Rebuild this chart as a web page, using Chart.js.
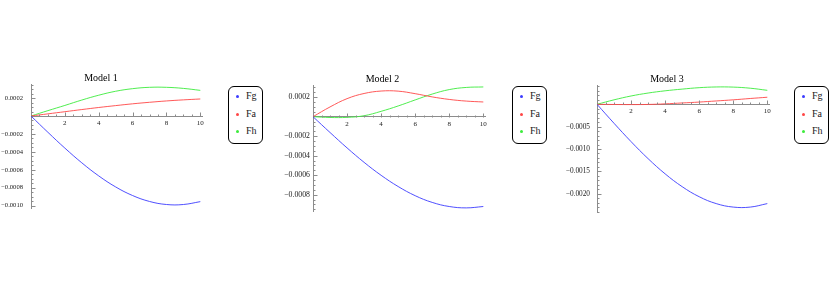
<!DOCTYPE html>
<html>
<head>
<meta charset="utf-8">
<script src="https://cdn.jsdelivr.net/npm/chart.js@4/dist/chart.umd.min.js"></script>
<style>
  body { margin: 0; background: #fff; }
  #wrap { position: relative; width: 830px; height: 284px; overflow: hidden; font-family: 'Liberation Serif', serif; }
  #wrap canvas { position: absolute; }
  .legend { position: absolute; box-sizing: border-box; border: 1.5px solid #000; border-radius: 6px; background: #fff; }
  .legend .dot { position: absolute; width: 3px; height: 3px; border-radius: 50%; }
  .legend .name { position: absolute; font-size: 10px; line-height: 12px; color: #222; }
</style>
</head>
<body>
<div id="wrap">
  <canvas id="model1" width="204" height="164" style="left:0;top:60px"></canvas>
  <canvas id="model2" width="211" height="164" style="left:280px;top:60px"></canvas>
  <canvas id="model3" width="208" height="164" style="left:565px;top:60px"></canvas>
</div>
<script>
const xValues = [0, 1, 2, 3, 4, 5, 6, 7, 8, 9, 10];
const seriesNames = ['Fg', 'Fa', 'Fh'];
const seriesColors = ['rgb(60,60,255)', 'rgb(255,70,70)', 'rgb(60,235,60)'];
const xTickValues = [2, 4, 6, 8, 10];

// Model 1
const fg1 = [0, -0.000182, -0.000358, -0.000522, -0.000668, -0.000791, -0.000887, -0.000953, -0.000987, -0.000987, -0.000955];
const fa1 = [0, 0.000024, 0.000048, 0.000072, 0.000095, 0.000116, 0.000136, 0.000153, 0.000168, 0.00018, 0.00019];
const fh1 = [0, 0.00006, 0.000118, 0.000178, 0.000232, 0.000276, 0.000305, 0.00032, 0.00032, 0.000308, 0.000286];
const yTicks1 = [0.0002, -0.0002, -0.0004, -0.0006, -0.0008, -0.001];

// Model 2
const fg2 = [0, -0.000162, -0.00032, -0.000468, -0.000601, -0.000716, -0.00081, -0.000879, -0.000921, -0.000935, -0.000921];
const fa2 = [0, 0.0001, 0.000185, 0.000238, 0.000263, 0.000262, 0.000236, 0.000203, 0.000177, 0.00016, 0.000151];
const fh2 = [0, -0.000008, -0.000007, 0.00001, 0.000055, 0.00011, 0.000172, 0.000232, 0.000278, 0.0003, 0.000305];
const yTicks2 = [0.0002, -0.0002, -0.0004, -0.0006, -0.0008];

// Model 3
const fg3 = [0, -0.000425, -0.000835, -0.001216, -0.001556, -0.001843, -0.002068, -0.002222, -0.0023, -0.0023, -0.002222];
const fa3 = [0, -0.000004, -0.000006, -0.000003, 0.00001, 0.00003, 0.00005, 0.000075, 0.0001, 0.00013, 0.000158];
const fh3 = [0, 0.0001, 0.000186, 0.000252, 0.000302, 0.00034, 0.000372, 0.000388, 0.000385, 0.00036, 0.000313];
const yTicks3 = [-0.0005, -0.001, -0.0015, -0.002];

const axisColor = '#8c8c8c';
const labelColor = '#222';

// Mathematica style ticks: pointing into the plot, with minor ticks
const axisTicks = {
  id: 'axisTicks',
  afterDraw(chart, args, opts) {
    const { ctx } = chart;
    const { x, y } = chart.scales;
    const x0 = Math.round(x.getPixelForValue(0)) + 0.5;
    const y0 = Math.round(y.getPixelForValue(0)) + 0.5;
    const isMajor = (v, step) => Math.abs(v / step - Math.round(v / step)) < 1e-6;
    ctx.save();
    ctx.strokeStyle = axisColor;
    ctx.lineWidth = 1;
    ctx.beginPath();
    for (let i = 1; i * opts.xMinor <= x.max + 1e-9; i++) {
      const v = i * opts.xMinor;
      const px = Math.round(x.getPixelForValue(v)) + 0.5;
      ctx.moveTo(px, y0);
      ctx.lineTo(px, y0 - (isMajor(v, opts.xMajor) ? 4 : 2));
    }
    const first = Math.ceil(y.min / opts.yMinor);
    const last = Math.floor(y.max / opts.yMinor);
    for (let i = first; i <= last; i++) {
      if (i === 0) continue;
      const v = i * opts.yMinor;
      const py = Math.round(y.getPixelForValue(v)) + 0.5;
      ctx.moveTo(x0, py);
      ctx.lineTo(x0 + (isMajor(v, opts.yMajor) ? 4 : 2), py);
    }
    ctx.stroke();
    ctx.restore();
  },
};

function formatY(v) {
  if (v === 0) return '';
  return (v < 0 ? '\u2212' : '') + Math.abs(v).toFixed(4);
}

function makePanel(id, title, fg, fa, fh, yMin, yMax, yTicks, opts) {
  const series = [fg, fa, fh];
  const ctx = document.getElementById(id).getContext('2d');
  return new Chart(ctx, {
    type: 'line',
    data: {
      datasets: series.map((values, i) => ({
        label: seriesNames[i],
        data: xValues.map((x, j) => ({ x, y: values[j] })),
        borderColor: seriesColors[i],
        borderWidth: 0.9,
        pointRadius: 0,
        tension: 0.4,
      })),
    },
    options: {
      responsive: false,
      animation: false,
      devicePixelRatio: 1,
      layout: {
        padding: { left: 0, top: 0, right: opts.padRight, bottom: opts.padBottom },
      },
      plugins: {
        legend: { display: false },
        tooltip: { enabled: false },
        title: {
          display: true,
          text: title,
          color: '#000',
          font: { family: "'Liberation Serif', serif", size: 10, weight: 'normal' },
          padding: { top: opts.titleTop, bottom: 0 },
        },
        axisTicks: { xMinor: 0.5, xMajor: 2, yMinor: opts.yMinor, yMajor: opts.yMajor },
      },
      scales: {
        x: {
          type: 'linear',
          position: { y: 0 },
          min: 0,
          max: 10.1,
          grid: { display: false, drawTicks: false },
          border: { display: true, color: axisColor, width: 1 },
          ticks: {
            color: labelColor,
            padding: 3,
            maxRotation: 0,
            font: { family: "'Liberation Serif', serif", size: 7 },
          },
          afterBuildTicks(scale) {
            scale.ticks = xTickValues.map((value) => ({ value }));
          },
          afterFit(scale) {
            scale.paddingLeft = 0;
            scale.paddingRight = 0;
          },
        },
        y: {
          type: 'linear',
          position: 'left',
          min: yMin,
          max: yMax,
          grid: { display: false, drawTicks: false },
          border: { display: true, color: axisColor, width: 1 },
          ticks: {
            color: labelColor,
            padding: opts.labelPad,
            font: { family: "'Liberation Serif', serif", size: opts.labelSize },
            callback: formatY,
          },
          afterBuildTicks(scale) {
            scale.ticks = yTicks.map((value) => ({ value }));
          },
          afterFit(scale) {
            scale.width = opts.axisWidth;
            scale.paddingTop = 0;
            scale.paddingBottom = 0;
          },
        },
      },
    },
    plugins: [axisTicks],
  });
}

function makeLegend(left, top) {
  const box = document.createElement('div');
  box.className = 'legend';
  Object.assign(box.style, { left: left + 'px', top: top + 'px', width: '35px', height: '58px' });
  seriesNames.forEach((name, i) => {
    const cy = 9.5 + i * 17.6;
    const dot = document.createElement('div');
    dot.className = 'dot';
    Object.assign(dot.style, { left: '7px', top: (cy - 1.5) + 'px', background: seriesColors[i] });
    const label = document.createElement('div');
    label.className = 'name';
    label.textContent = name;
    Object.assign(label.style, { left: '17px', top: (cy - 6.5) + 'px' });
    box.appendChild(dot);
    box.appendChild(label);
  });
  document.getElementById('wrap').appendChild(box);
}

makePanel('model1', 'Model 1', fg1, fa1, fh1, -0.001026, 0.000357, yTicks1, {
  axisWidth: 31, padRight: 2, padBottom: 16, titleTop: 12, labelPad: 8, labelSize: 6.6,
  yMinor: 0.00005, yMajor: 0.0002,
});
makePanel('model2', 'Model 2', fg2, fa2, fh2, -0.000967, 0.000325, yTicks2, {
  axisWidth: 33, padRight: 6, padBottom: 13, titleTop: 13, labelPad: 3, labelSize: 7.8,
  yMinor: 0.00005, yMajor: 0.0002,
});
makePanel('model3', 'Model 3', fg3, fa3, fh3, -0.00241, 0.000432, yTicks3, {
  axisWidth: 32, padRight: 4, padBottom: 12, titleTop: 13, labelPad: 7, labelSize: 7.3,
  yMinor: 0.0001, yMajor: 0.0005,
});

makeLegend(228, 86);
makeLegend(512, 86);
makeLegend(794, 86);
</script>
</body>
</html>
